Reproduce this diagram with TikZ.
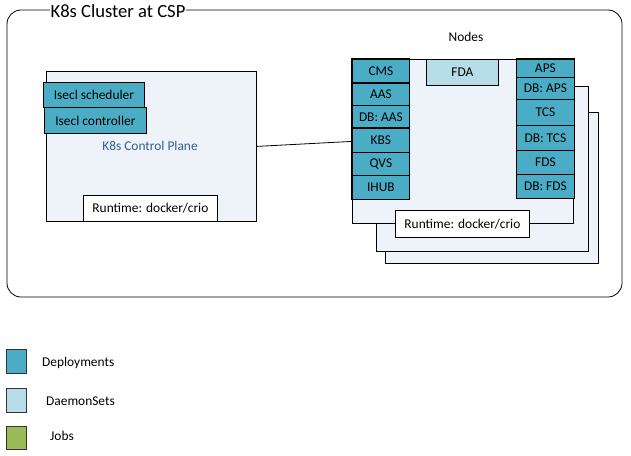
\documentclass[tikz,border=0pt]{standalone}
\usepackage{fontspec}
\setmainfont{Carlito}
\definecolor{depc}{HTML}{4BACC6}
\definecolor{dsc}{HTML}{B7DEE8}
\definecolor{jobc}{HTML}{9BBB59}
\definecolor{planec}{HTML}{EEF3FA}
\definecolor{cptext}{HTML}{2F5F8F}
\begin{document}
\begin{tikzpicture}[x=1pt,y=-1pt,
  txt/.style={font=\fontsize{13.4}{15}\selectfont},
  cell/.style={draw=black, line width=0.8pt, fill=depc, inner sep=0pt, anchor=north west, txt},
  plane/.style={draw=black, line width=0.8pt, fill=planec, inner sep=0pt, anchor=north west},
  whitebox/.style={draw=black, line width=0.8pt, fill=white, inner sep=0pt, anchor=north west, txt},
  legendsq/.style={draw=black!80, line width=0.8pt, inner sep=0pt, anchor=north west, minimum width=20pt, minimum height=24pt},
  legendtxt/.style={anchor=west, txt, inner sep=0pt},
  grp/.style={draw=black, line width=1.2pt}
]
\useasboundingbox (0,0) rectangle (631,455);
% outer cluster
\draw[line width=0.8pt, rounded corners=14pt] (7,10) rectangle (622,297);
\node[fill=white, inner xsep=1pt, inner ysep=0pt, font=\fontsize{18.6}{20}\selectfont] (title) at (118,11) {K8s Cluster at CSP};

% control plane
\node[plane, minimum width=210pt, minimum height=150pt] (cp) at (46,71) {};
\node[cell, minimum width=101pt, minimum height=25pt] (sched) at (43,82) {Isecl scheduler};
\node[cell, minimum width=102pt, minimum height=26pt] (ctrl) at (44,107) {Isecl controller};
\node[txt, text=cptext] (cplabel) at (150,146) {K8s Control Plane};
\node[whitebox, minimum width=134pt, minimum height=26pt] (cprt) at (83,195) {Runtime: docker/crio};

% nodes
\node[txt] (nodeslabel) at (466,37) {Nodes};
\node[plane, minimum width=213pt, minimum height=151pt] (n3) at (385,112) {};
\node[plane, minimum width=212pt, minimum height=165pt] (n2) at (376,86) {};
\node[plane, minimum width=221pt, minimum height=164pt] (front) at (352,59) {};

\draw[line width=0.8pt] (cp.east) -- (front.west);

% left column
\node[cell, minimum width=57pt, minimum height=24pt] (cms) at (352,59) {CMS};
\node[cell, minimum width=57pt, minimum height=22pt] (aas) at (352,83) {AAS};
\node[cell, minimum width=57pt, minimum height=23pt] (dbaas) at (352,105) {DB: AAS};
\node[cell, minimum width=57pt, minimum height=24pt] (kbs) at (352,128) {KBS};
\node[cell, minimum width=57pt, minimum height=23pt] (qvs) at (352,152) {QVS};
\node[cell, minimum width=57pt, minimum height=24pt] (ihub) at (352,175) {IHUB};
\draw[grp] (cms.north west) rectangle (cms.south east);
\draw[grp] (aas.north west) rectangle (dbaas.south east);
\draw[grp] (kbs.north west) rectangle (ihub.south east);

% FDA
\node[cell, fill=dsc, minimum width=72pt, minimum height=26pt] (fda) at (426,59) {FDA};

% right column
\node[cell, minimum width=58pt, minimum height=18pt] (aps) at (516,59) {APS};
\node[cell, minimum width=58pt, minimum height=22pt] (dbaps) at (516,77) {DB: APS};
\node[cell, minimum width=58pt, minimum height=26pt] (tcs) at (516,99) {TCS};
\node[cell, minimum width=58pt, minimum height=25pt] (dbtcs) at (516,125) {DB: TCS};
\node[cell, minimum width=58pt, minimum height=24pt] (fds) at (516,150) {FDS};
\node[cell, minimum width=58pt, minimum height=24pt] (dbfds) at (516,174) {DB: FDS};
\draw[grp] (aps.north west) -- (aps.north east);

% nodes runtime
\node[whitebox, minimum width=134pt, minimum height=27pt] (nrt) at (395,210) {Runtime: docker/crio};

% legend
\node[legendsq, fill=depc] (lg1) at (6,349) {};
\node[legendsq, fill=dsc] (lg2) at (6,388) {};
\node[legendsq, fill=jobc, minimum height=23pt] (lg3) at (6,426) {};
\node[legendtxt] (lt1) at (42,363) {Deployments};
\node[legendtxt] (lt2) at (46,401) {DaemonSets};
\node[legendtxt] (lt3) at (50,436) {Jobs};
\end{tikzpicture}
\end{document}
